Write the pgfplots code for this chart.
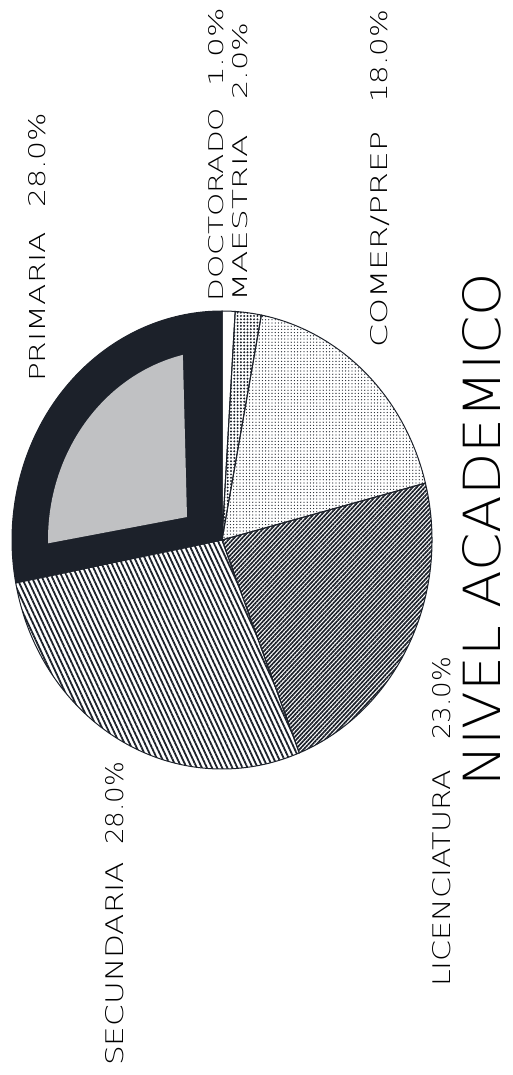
\documentclass[border=0pt]{standalone}
\usepackage{pgfplots}
\pgfplotsset{compat=1.18}
\usepackage{pgfplotstable}
\usepackage{graphicx}
\usepackage{fontspec}
\usetikzlibrary{patterns.meta}
\newfontfamily\lf{DejaVu Sans ExtraLight}
\definecolor{ink}{RGB}{28,33,42}

\pgfplotstableread{
label value
DOCTORADO 1
MAESTRIA 2
COMER/PREP 18
LICENCIATURA 23
SECUNDARIA 28
PRIMARIA 28
}\piedata

\tikzset{
 slice0/.style={fill=white},
 slice1/.style={pattern={Dots[distance=3.3pt, radius=1.1pt]}, pattern color=ink},
 slice2/.style={pattern={Dots[distance=3.2pt, radius=0.65pt]}, pattern color=ink},
 slice3/.style={pattern={Lines[angle=47, distance=3pt, line width=1.7pt]}, pattern color=ink},
 slice4/.style={pattern={Lines[angle=-65, distance=4.6pt, line width=1.8pt]}, pattern color=ink},
 slice5/.style={fill=ink},
}

% x of baseline, y start, y end, cap height, text
\newcommand\lab[5]{%
  \node[rotate=90, anchor=base west, inner sep=0pt] at (axis cs:#1,#2)
    {\resizebox{\dimexpr #2pt - #3pt\relax}{#4pt}{\lf #5}};%
}

\begin{document}
\begin{tikzpicture}
\begin{axis}[
  xmin=0, xmax=512, ymin=0, ymax=1075, y dir=reverse,
  width=512pt, height=1075pt, scale only axis,
  hide axis, clip=false,
]
\path (axis cs:0,0) rectangle (axis cs:512,1075);

\def\cum{0}
\pgfplotsforeachungrouped \i in {0,...,5}{%
  \pgfplotstablegetelem{\i}{value}\of\piedata
  \let\v\pgfplotsretval
  \pgfmathsetmacro\a{90 - 3.6*\cum}%
  \pgfmathsetmacro\b{90 - 3.6*(\cum+\v)}%
  \edef\temp{\noexpand\filldraw[slice\i, draw=ink, line width=1pt]
     (axis cs:222,540) -- ++(\a:210pt and 229pt)
     arc[start angle=\a, end angle=\b, x radius=210pt, y radius=229pt] -- cycle;}%
  \temp
  \pgfmathsetmacro\cum{\cum+\v}%
}
% lighter speckled interior of the PRIMARIA slice
\fill[ink!28!white] (axis cs:222,540) ++(181:174pt and 190pt)
   arc[start angle=181, end angle=103, x radius=174pt, y radius=190pt]
   -- (axis cs:187,517) -- cycle;

\lab{45}{382}{232}{16}{PRIMARIA}
\lab{45}{208}{113}{17}{28.0\%}
\lab{223}{302}{108}{15}{DOCTORADO}
\lab{223}{87}{8}{15}{1.0\%}
\lab{247}{302}{135}{15}{MAESTRIA}
\lab{247}{100}{23}{15}{2.0\%}
\lab{387}{348}{132}{17}{COMER/PREP}
\lab{387}{103}{10}{17}{18.0\%}
\lab{123}{1066}{862}{18}{SECUNDARIA}
\lab{123}{845}{762}{18}{28.0\%}
\lab{450}{987}{770}{18}{LICENCIATURA}
\lab{450}{740}{657}{18}{23.0\%}
\lab{500}{787}{273}{38}{NIVEL ACADEMICO}
\end{axis}
\end{tikzpicture}
\end{document}
